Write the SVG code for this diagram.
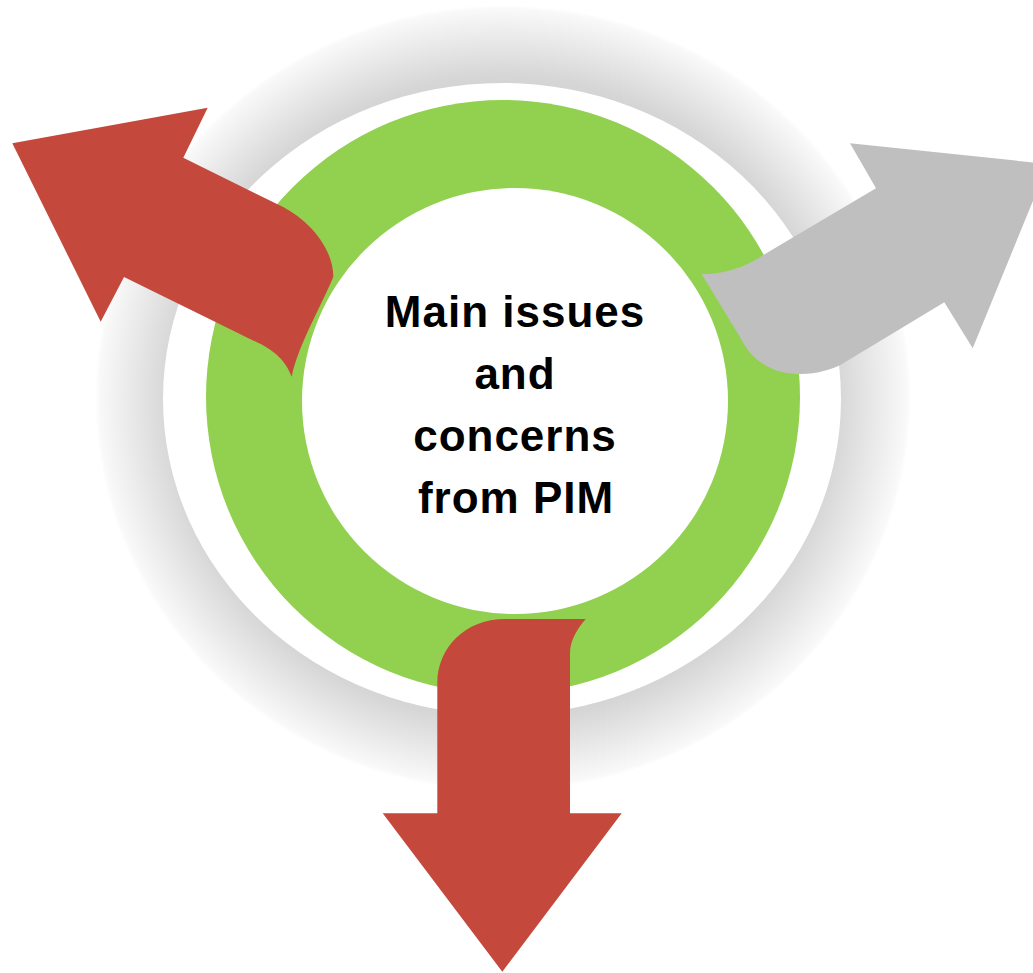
<svg xmlns="http://www.w3.org/2000/svg" width="1033" height="973" viewBox="0 0 1033 973">
  <defs>
    <radialGradient id="haloGrad" cx="0.5" cy="0.5" r="0.5">
      <stop offset="0.78" stop-color="#d2d2d2"/>
      <stop offset="0.82" stop-color="#d6d6d6"/>
      <stop offset="0.99" stop-color="#f9f9f9"/>
      <stop offset="1" stop-color="#ffffff"/>
    </radialGradient>
    <style>
      .red { fill: #c4493c; }
      .grey { fill: #bfbfbf; }
      .ring { fill: #92d050; }
      .blank { fill: #ffffff; }
      .label { font-family: "Liberation Sans", Arial, sans-serif; font-weight: bold; font-size: 44px; fill: #000000; text-anchor: middle; letter-spacing: 1px; }
    </style>
  </defs>

  <rect width="1033" height="973" fill="#ffffff"/>

  <!-- soft halo behind the ring -->
  <g id="halo">
    <ellipse cx="503" cy="398" rx="408" ry="393" fill="url(#haloGrad)"/>
    <ellipse class="blank" cx="502" cy="399" rx="339" ry="316"/>
  </g>

  <!-- green ring with the central label -->
  <g id="hub">
    <circle class="ring" cx="503" cy="397" r="297"/>
    <circle class="blank" cx="515" cy="401" r="213"/>
    <text class="label" x="515" y="327">Main issues</text>
    <text class="label" x="515" y="389" letter-spacing="3">and</text>
    <text class="label" x="515" y="451">concerns</text>
    <text class="label" x="516" y="513" letter-spacing="2">from PIM</text>
  </g>

  <!-- outgoing arrows -->
  <g id="connectors">
    <path id="arrow-left" class="red" d="M 12.3,143.3 L 207.7,107.7 L 183.3,157.7 L 279,205 C 305,217 333,245 333.3,276.7 C 322,305 298,345 291.7,376.7 C 285,360 275,350 250,339 L 124,277 L 100.7,321.7 Z"/>
    <path id="arrow-right" class="grey" d="M 850,143.3 L 1048,164 L 972.7,348.3 L 944.3,302.3 L 843.3,363.3 C 820,377 765,385 741.7,340 L 701.7,274 C 720,275 745,268 763.3,255 L 876,188.3 Z"/>
    <path id="arrow-down" class="red" d="M 505,619 L 585.7,619 C 578,628 570,640 570,653.3 L 570,813.3 L 621.7,813.3 L 502.3,971.7 L 382.7,813.3 L 437.3,813.3 L 437.3,683.3 C 437.3,647 466,619 505,619 Z"/>
  </g>
</svg>
